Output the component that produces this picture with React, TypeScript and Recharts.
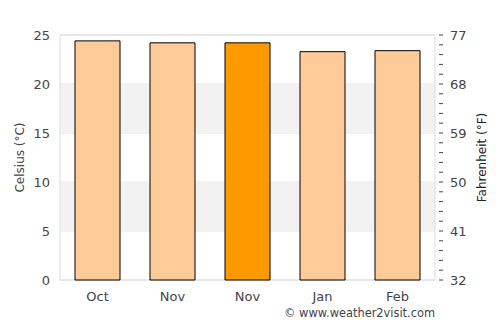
import React from "react";
import { ComposedChart, Bar, Line, XAxis, YAxis, CartesianGrid, ReferenceArea, Cell } from "recharts";

const months = ["Oct", "Nov", "Nov", "Jan", "Feb"];
const celsius = [24.4, 24.2, 24.2, 23.3, 23.4];
const highlight = [false, false, true, false, false];
const celsiusTicks = [0, 5, 10, 15, 20, 25];
const fahrenheitTicks = [32, 41, 50, 59, 68, 77];
const minorStepsC = [0, 1, 2, 3, 4, 5, 6, 7, 8, 9, 10, 11, 12, 13, 14, 15, 16, 17, 18, 19, 20, 21, 22, 23, 24, 25];

const data = months.map((m, i) => ({ month: m, c: celsius[i], f: celsius[i] * 1.8 + 32, hi: highlight[i] }));
const fTicksAll = minorStepsC.map((c) => Math.round((c * 1.8 + 32) * 100) / 100);

const FONT = "DejaVu Sans, sans-serif";
const TXT = "#444";

const RightTick = (props: any) => {
  const { x, y, payload } = props;
  const v = payload.value;
  const major = fahrenheitTicks.some((t) => Math.abs(t - v) < 0.01);
  return (
    <g>
      <line x1={x - 4} x2={x} y1={y} y2={y} stroke="#444" strokeWidth={1} />
      {major && (
        <text x={x + 7} y={y} dy={5} fontSize={13} fill={TXT} fontFamily={FONT} textAnchor="start">
          {Math.round(v)}
        </text>
      )}
    </g>
  );
};

export default function App() {
  return (
    <div style={{ position: "absolute", left: 0, top: 0, width: 500, height: 325, background: "#fff" }}>
      <ComposedChart width={500} height={325} data={data} margin={{ top: 35, right: 0, bottom: 0, left: 0 }} barCategoryGap="20%">
        <ReferenceArea yAxisId="c" y1={5} y2={10} fill="#f2f2f2" fillOpacity={1} stroke="none" />
        <ReferenceArea yAxisId="c" y1={15} y2={20} fill="#f2f2f2" fillOpacity={1} stroke="none" />
        <CartesianGrid yAxisId="c" vertical={false} stroke="#e2e2e2" />
        <ReferenceArea yAxisId="c" y1={0} y2={25} fill="none" stroke="#dddddd" strokeWidth={1} />
        <XAxis
          dataKey="month"
          height={45}
          axisLine={false}
          tickLine={false}
          tick={{ fontSize: 13, fill: TXT, fontFamily: FONT }}
          tickMargin={6}
        />
        <YAxis
          yAxisId="c"
          orientation="left"
          width={60}
          domain={[0, 25]}
          ticks={celsiusTicks}
          axisLine={false}
          tickLine={false}
          tickMargin={4}
          tick={{ fontSize: 13, fill: TXT, fontFamily: FONT }}
          label={{ value: "Celsius (°C)", angle: -90, position: "insideLeft", offset: 20, style: { fontSize: 12, fill: TXT, fontFamily: FONT, textAnchor: "middle" } }}
        />
        <YAxis
          yAxisId="f"
          orientation="right"
          width={65}
          domain={[32, 77]}
          allowDataOverflow
          ticks={fTicksAll}
          interval={0}
          axisLine={false}
          tickLine={false}
          tick={<RightTick />}
          label={{ value: "Fahrenheit (°F)", angle: -90, position: "insideRight", offset: 18, style: { fontSize: 12, fill: "#222", fontFamily: FONT, textAnchor: "middle" } }}
        />
        <Bar yAxisId="c" dataKey="c" stroke="#000" strokeWidth={1} isAnimationActive={false}>
          {data.map((d, i) => (
            <Cell key={i} fill={d.hi ? "#ff9900" : "#ffcc99"} />
          ))}
        </Bar>
        <Line yAxisId="f" dataKey="f" stroke="none" dot={false} activeDot={false} isAnimationActive={false} />
        <text x={435} y={317} textAnchor="end" fontSize={11.4} fill={TXT} fontFamily={FONT}>
          © www.weather2visit.com
        </text>
      </ComposedChart>
    </div>
  );
}
